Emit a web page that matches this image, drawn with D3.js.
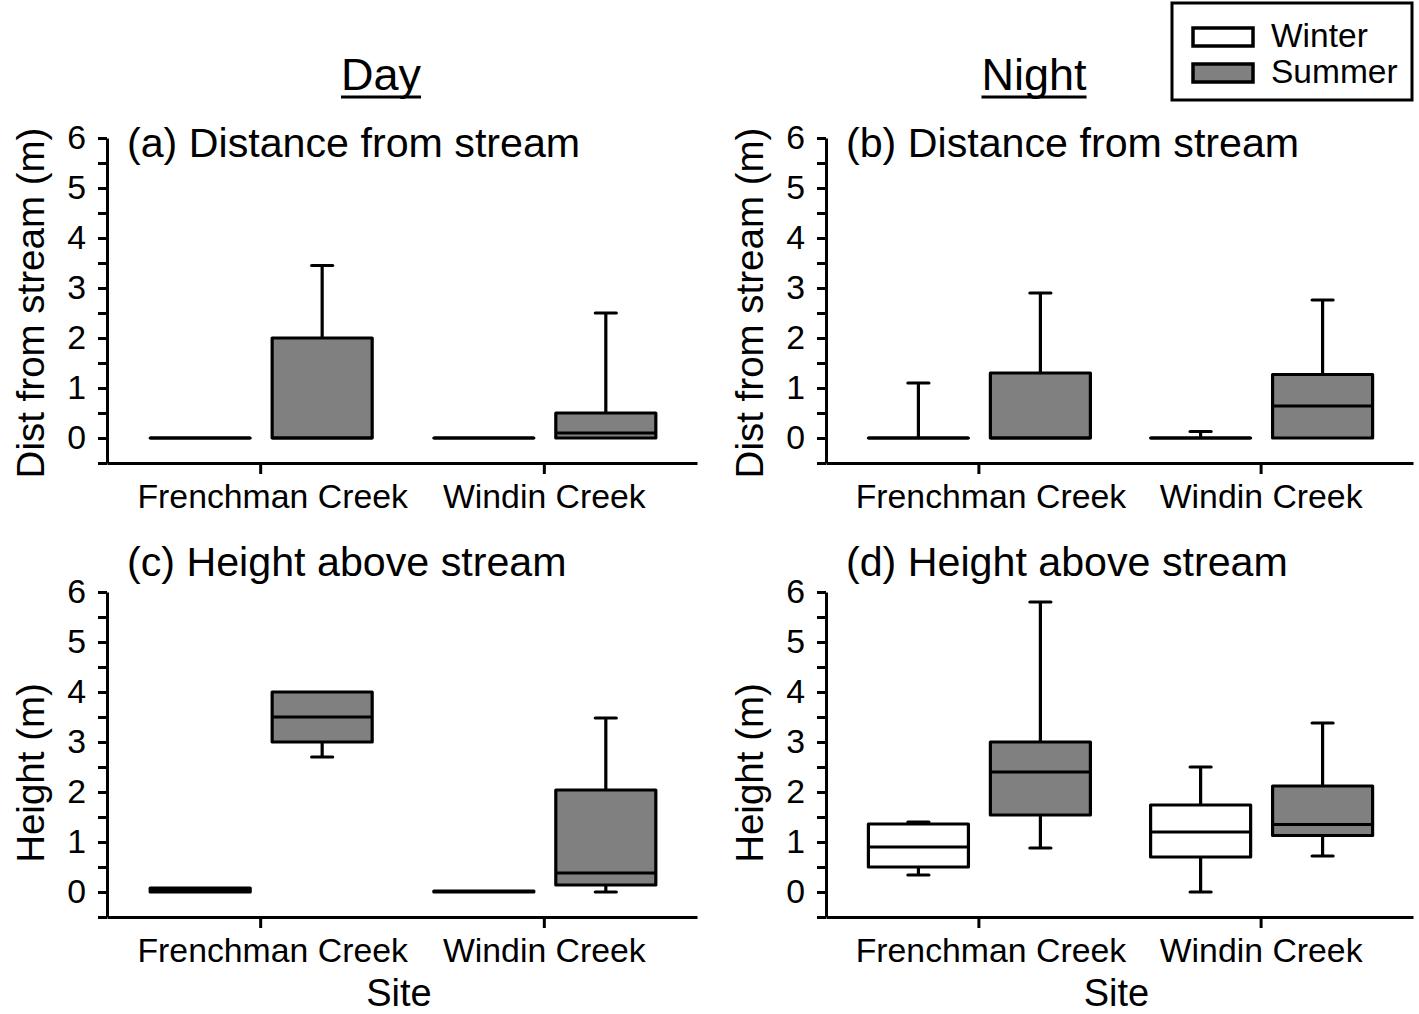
<!DOCTYPE html>
<html>
<head>
<meta charset="utf-8">
<script src="https://cdn.jsdelivr.net/npm/d3@7"></script>
<style>
  html, body { margin: 0; padding: 0; background: #fff; }
  svg { display: block; font-family: "Liberation Sans", Arial, sans-serif; }
</style>
</head>
<body>
<svg id="chart" width="1419" height="1014"></svg>
<script>
// ---------- data ----------
const sites = ["Frenchman Creek", "Windin Creek"];
const seasons = ["Winter", "Summer"];
const yTickValues = [0, 1, 2, 3, 4, 5, 6];
const yMinorValues = [-0.5, 0.5, 1.5, 2.5, 3.5, 4.5, 5.5];
// rows: [min, q1, median, q3, max]; order: FC Winter, FC Summer, WC Winter, WC Summer
const distDayStats = [
  [0, 0, 0, 0, 0],
  [0, 0, 0, 2.0, 3.45],
  [0, 0, 0, 0, 0],
  [0, 0, 0.1, 0.5, 2.5]
];
const distNightStats = [
  [0, 0, 0, 0, 1.1],
  [0, 0, 0, 1.3, 2.9],
  [0, 0, 0, 0, 0.13],
  [0, 0, 0.64, 1.27, 2.76]
];
const heightDayStats = [
  [0, 0, 0.04, 0.08, 0.08],
  [2.7, 3.0, 3.5, 4.0, 4.0],
  [0, 0, 0.01, 0.02, 0.02],
  [0, 0.14, 0.38, 2.04, 3.48]
];
const heightNightStats = [
  [0.34, 0.5, 0.9, 1.36, 1.4],
  [0.88, 1.54, 2.4, 3.0, 5.8],
  [0, 0.7, 1.2, 1.74, 2.5],
  [0.72, 1.13, 1.35, 2.12, 3.38]
];
const seasonFill = ["#ffffff", "#808080"];

// ---------- layout ----------
const svg = d3.select("#chart");
const FONT_TICK = 33.8;

const panels = [
  { title: "(a) Distance from stream", ylabel: "Dist from stream (m)", stats: distDayStats,   xl: 107, xr: 697, yt: 138, yb: 463, titleY: 157, ylabY: 303, xlabel: null },
  { title: "(b) Distance from stream", ylabel: "Dist from stream (m)", stats: distNightStats, xl: 826, xr: 1413, yt: 138, yb: 463, titleY: 157, ylabY: 303, xlabel: null },
  { title: "(c) Height above stream",  ylabel: "Height (m)",           stats: heightDayStats, xl: 107, xr: 697, yt: 592, yb: 917, titleY: 576, ylabY: 773, xlabel: "Site" },
  { title: "(d) Height above stream",  ylabel: "Height (m)",           stats: heightNightStats, xl: 826, xr: 1413, yt: 592, yb: 917, titleY: 576, ylabY: 773, xlabel: "Site" }
];

panels.forEach(p => {
  const g = svg.append("g");
  const y = d3.scaleLinear().domain([-0.5, 6]).range([p.yb, p.yt]);
  const x = d3.scalePoint().domain(sites).range([p.xl, p.xr]).padding(0.54);
  const inner = d3.scaleBand().domain(seasons).range([-110, 112]).paddingInner(0.18);
  const bw = inner.bandwidth();

  // y axis: minor ticks (no labels)
  const yMinor = g.append("g").attr("transform", `translate(${p.xl},0)`)
    .call(d3.axisLeft(y).tickValues(yMinorValues).tickSize(9).tickFormat(""));
  // y axis major
  const yAx = g.append("g").attr("transform", `translate(${p.xl},0)`)
    .call(d3.axisLeft(y).tickValues(yTickValues).tickFormat(d3.format("d"))
      .tickSize(9).tickPadding(12).tickSizeOuter(0));
  [yMinor, yAx].forEach(a => {
    a.selectAll("path.domain").attr("stroke", "#000").attr("stroke-width", 3);
    a.selectAll(".tick line").attr("stroke", "#000").attr("stroke-width", 3);
  });
  yMinor.select("path.domain").remove();
  yAx.selectAll(".tick text").attr("font-size", FONT_TICK).attr("fill", "#000")
    .attr("font-family", "Liberation Sans, Arial, sans-serif");

  // x axis
  const xAx = g.append("g").attr("transform", `translate(0,${p.yb})`)
    .call(d3.axisBottom(x).tickSize(11).tickPadding(10).tickSizeOuter(0));
  xAx.select("path.domain").attr("stroke", "#000").attr("stroke-width", 3);
  xAx.selectAll(".tick line").attr("stroke", "#000").attr("stroke-width", 3);
  xAx.selectAll(".tick text").attr("font-size", FONT_TICK).attr("fill", "#000")
    .attr("font-family", "Liberation Sans, Arial, sans-serif")
    .attr("dx", (d, i) => i === 0 ? 12 : 0);

  // boxes
  const items = [];
  sites.forEach((s, i) => seasons.forEach((se, j) => {
    items.push({ site: s, season: se, j, st: p.stats[i * 2 + j] });
  }));
  const bg = g.append("g").attr("stroke", "#000").attr("stroke-width", 3.2);
  items.forEach(d => {
    const cx = x(d.site) + inner(d.season) + bw / 2;
    const x0 = cx - bw / 2, x1 = cx + bw / 2;
    const [mn, q1, md, q3, mx] = d.st;
    const capW = 21;
    if (mx > q3) {
      bg.append("line").attr("x1", cx).attr("x2", cx).attr("y1", y(q3)).attr("y2", y(mx)).attr("stroke-linecap", "butt");
      bg.append("line").attr("x1", cx - capW / 2).attr("x2", cx + capW / 2).attr("y1", y(mx)).attr("y2", y(mx)).attr("stroke-linecap", "round");
    }
    if (mn < q1) {
      bg.append("line").attr("x1", cx).attr("x2", cx).attr("y1", y(q1)).attr("y2", y(mn)).attr("stroke-linecap", "butt");
      bg.append("line").attr("x1", cx - capW / 2).attr("x2", cx + capW / 2).attr("y1", y(mn)).attr("y2", y(mn)).attr("stroke-linecap", "round");
    }
    bg.append("path")
      .attr("d", `M${x0},${y(q3)}H${x1}V${y(q1)}H${x0}Z`)
      .attr("fill", seasonFill[d.j])
      .attr("stroke-linejoin", "round").attr("stroke-linecap", "round");
    bg.append("line").attr("x1", x0).attr("x2", x1).attr("y1", y(md)).attr("y2", y(md));
  });

  // panel title
  g.append("text").attr("x", p.xl + 20).attr("y", p.titleY)
    .attr("font-size", 41.2).attr("fill", "#000").text(p.title);

  // y label
  g.append("text")
    .attr("transform", `translate(${p.xl - 63},${p.ylabY}) rotate(-90)`)
    .attr("text-anchor", "middle").attr("font-size", 38.5).attr("fill", "#000")
    .text(p.ylabel);

  if (p.xlabel) {
    g.append("text").attr("x", (p.xl + p.xr) / 2 - 3).attr("y", 1006)
      .attr("text-anchor", "middle").attr("font-size", 38).attr("fill", "#000")
      .text(p.xlabel);
  }
});

// column headers
const headers = [{ t: "Day", cx: 381 }, { t: "Night", cx: 1034 }];
headers.forEach(h => {
  const t = svg.append("text").attr("x", h.cx).attr("y", 90)
    .attr("text-anchor", "middle").attr("font-size", 45).attr("fill", "#000")
    .text(h.t);
  const w = t.node().getComputedTextLength();
  svg.append("line").attr("x1", h.cx - w / 2).attr("x2", h.cx + w / 2)
    .attr("y1", 97).attr("y2", 97).attr("stroke", "#000").attr("stroke-width", 3);
});

// legend
const lg = svg.append("g");
lg.append("rect").attr("x", 1172).attr("y", 3).attr("width", 240).attr("height", 97)
  .attr("fill", "#fff").attr("stroke", "#000").attr("stroke-width", 3);
seasons.forEach((s, i) => {
  lg.append("rect").attr("x", 1193).attr("y", 28 + i * 36).attr("width", 60).attr("height", 18)
    .attr("fill", seasonFill[i]).attr("stroke", "#000").attr("stroke-width", 3.5);
  lg.append("text").attr("x", 1271).attr("y", 47 + i * 36)
    .attr("font-size", 33.5).attr("fill", "#000").text(s);
});
</script>
</body>
</html>
